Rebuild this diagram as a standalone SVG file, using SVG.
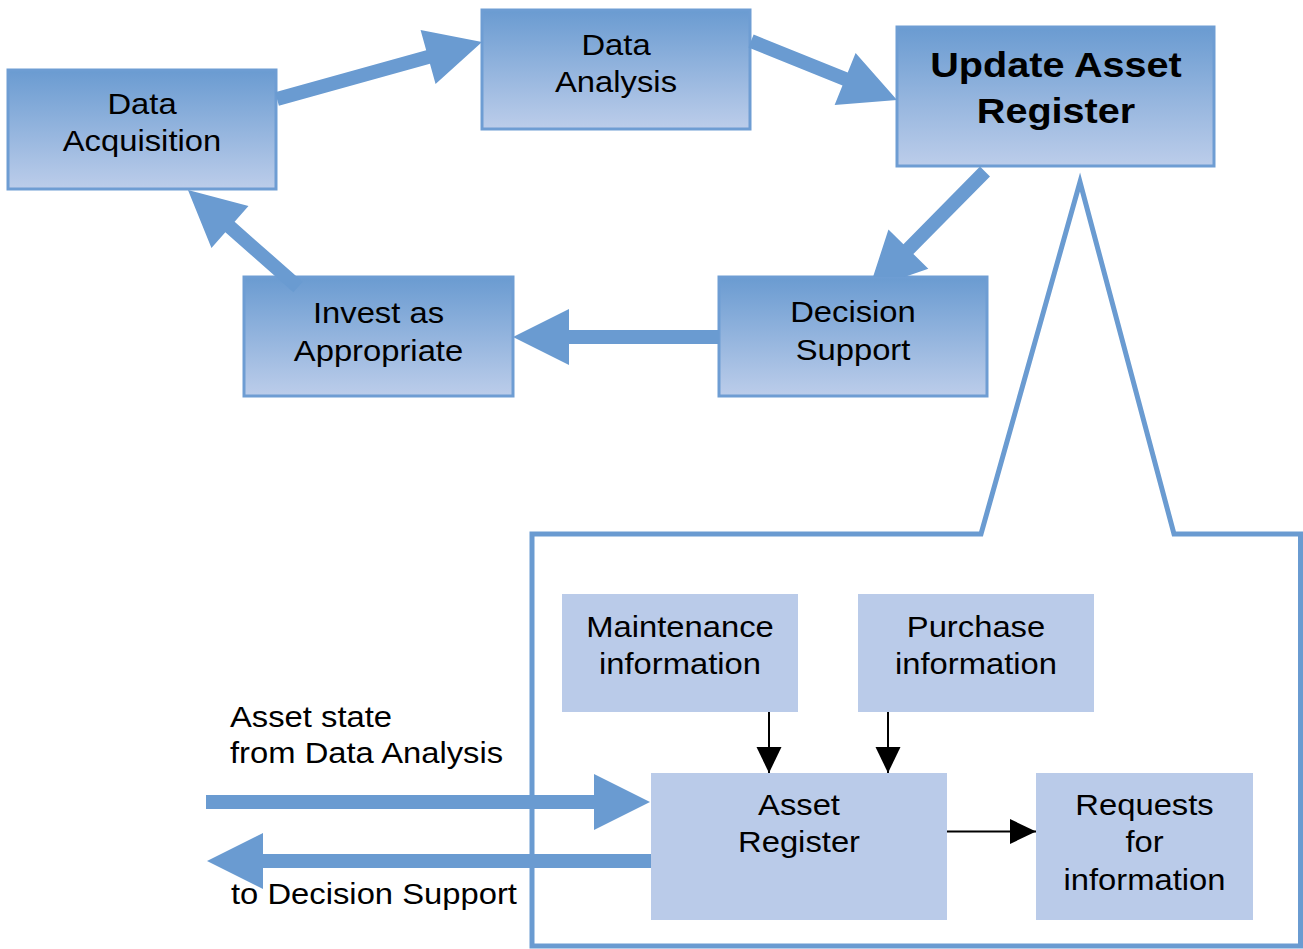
<svg xmlns="http://www.w3.org/2000/svg" width="1303" height="949" viewBox="0 0 1303 949">
  <defs>
    <linearGradient id="boxFill" x1="0" y1="0" x2="0" y2="1">
      <stop offset="0" stop-color="#6a9bd1"/>
      <stop offset="1" stop-color="#bccdea"/>
    </linearGradient>
    <marker id="blackHead" markerUnits="userSpaceOnUse" markerWidth="26" markerHeight="26" refX="26" refY="12.5" orient="auto">
      <path d="M0,0 L26,12.5 L0,25 Z" fill="#000"/>
    </marker>
    <clipPath id="aboveDecision">
      <rect x="0" y="0" width="1303" height="277"/>
    </clipPath>
  </defs>
  <style>
    .proc { fill: url(#boxFill); stroke: #6e9dd3; stroke-width: 3; }
    .info { fill: #bacbe9; stroke: none; }
    .txt { font-family: "Liberation Sans", Arial, sans-serif; font-size: 29px; fill: #000; }
    .mid { text-anchor: middle; }
    .bold { font-weight: bold; font-size: 36px; }
    .fat { fill: #6a9bd1; }
    .thin { stroke: #000; stroke-width: 2; fill: none; marker-end: url(#blackHead); }
    .callout { fill: none; stroke: #6a9bd1; stroke-width: 5; stroke-linejoin: miter; }
  </style>

  <rect width="1303" height="949" fill="#fff"/>

  <!-- zoomed-in panel outline with its pointer -->
  <path id="callout" class="callout" d="M532,946 V534 H981 L1080,182 L1174,534 H1300.5 V946 Z"/>

  <g id="data-acquisition">
    <rect class="proc" x="8" y="70" width="268" height="119"/>
    <text class="txt mid" transform="translate(142,113.5) scale(1.13,1)">Data</text>
    <text class="txt mid" transform="translate(142,150.8) scale(1.13,1)">Acquisition</text>
  </g>
  <g id="data-analysis">
    <rect class="proc" x="482" y="10" width="268" height="119"/>
    <text class="txt mid" transform="translate(616,55) scale(1.13,1)">Data</text>
    <text class="txt mid" transform="translate(616,92.3) scale(1.13,1)">Analysis</text>
  </g>
  <g id="update-asset-register">
    <rect class="proc" x="897" y="27" width="317" height="139"/>
    <text class="txt mid bold" transform="translate(1056,77) scale(1.1,1)">Update Asset</text>
    <text class="txt mid bold" transform="translate(1056,123) scale(1.1,1)">Register</text>
  </g>
  <g id="decision-support">
    <rect class="proc" x="719" y="277" width="268" height="119"/>
    <text class="txt mid" transform="translate(853,322) scale(1.13,1)">Decision</text>
    <text class="txt mid" transform="translate(853,360) scale(1.13,1)">Support</text>
  </g>
  <g id="invest">
    <rect class="proc" x="244" y="277" width="269" height="119"/>
    <text class="txt mid" transform="translate(378.5,322.7) scale(1.13,1)">Invest as</text>
    <text class="txt mid" transform="translate(378.5,360.5) scale(1.13,1)">Appropriate</text>
  </g>

  <g id="maintenance-information">
    <rect class="info" x="562" y="594" width="236" height="118"/>
    <text class="txt mid" transform="translate(680,637) scale(1.13,1)">Maintenance</text>
    <text class="txt mid" transform="translate(680,674) scale(1.13,1)">information</text>
  </g>
  <g id="purchase-information">
    <rect class="info" x="858" y="594" width="236" height="118"/>
    <text class="txt mid" transform="translate(976,637) scale(1.13,1)">Purchase</text>
    <text class="txt mid" transform="translate(976,674) scale(1.13,1)">information</text>
  </g>
  <g id="asset-register">
    <rect class="info" x="651" y="773" width="296" height="147"/>
    <text class="txt mid" transform="translate(799,815) scale(1.13,1)">Asset</text>
    <text class="txt mid" transform="translate(799,852) scale(1.13,1)">Register</text>
  </g>
  <g id="requests-for-information">
    <rect class="info" x="1036" y="773" width="217" height="147"/>
    <text class="txt mid" transform="translate(1144.5,815) scale(1.13,1)">Requests</text>
    <text class="txt mid" transform="translate(1144.5,852) scale(1.13,1)">for</text>
    <text class="txt mid" transform="translate(1144.5,889.5) scale(1.13,1)">information</text>
  </g>

  <g id="flow-labels">
    <text class="txt" transform="translate(230,727) scale(1.13,1)">Asset state</text>
    <text class="txt" transform="translate(230,763) scale(1.13,1)">from Data Analysis</text>
    <text class="txt" transform="translate(231,904) scale(1.13,1)">to Decision Support</text>
  </g>

  <g id="connectors">
    <!-- block arrows: shaft half-width 7, head 56 long and 28 half-wide, tip at local x = length -->
    <path class="fat" transform="translate(277,99) rotate(-15.54)" d="M0,-7 H156.8 V-28 L212.8,0 L156.8,28 V7 H0 Z"/>
    <path class="fat" transform="translate(751,41) rotate(22)" d="M0,-7 H101.5 V-28 L157.5,0 L101.5,28 V7 H0 Z"/>
    <g clip-path="url(#aboveDecision)">
      <path class="fat" transform="translate(985,171.5) rotate(134.6)" d="M0,-7 H109.1 V-28 L165.1,0 L109.1,28 V7 H0 Z"/>
    </g>
    <path class="fat" transform="translate(719,337) rotate(180)" d="M0,-7 H150 V-28 L206,0 L150,28 V7 H0 Z"/>
    <path class="fat" transform="translate(298,287) rotate(-138.6)" d="M0,-7 H90.7 V-28 L146.7,0 L90.7,28 V7 H0 Z"/>
    <path class="fat" transform="translate(206,802)" d="M0,-7 H388 V-28 L444,0 L388,28 V7 H0 Z"/>
    <path class="fat" transform="translate(651,861) rotate(180)" d="M0,-7 H388 V-28 L444,0 L388,28 V7 H0 Z"/>

    <line class="thin" x1="769" y1="712" x2="769" y2="773"/>
    <line class="thin" x1="888" y1="712" x2="888" y2="773"/>
    <line class="thin" x1="947" y1="831.5" x2="1036" y2="831.5"/>
  </g>
</svg>
